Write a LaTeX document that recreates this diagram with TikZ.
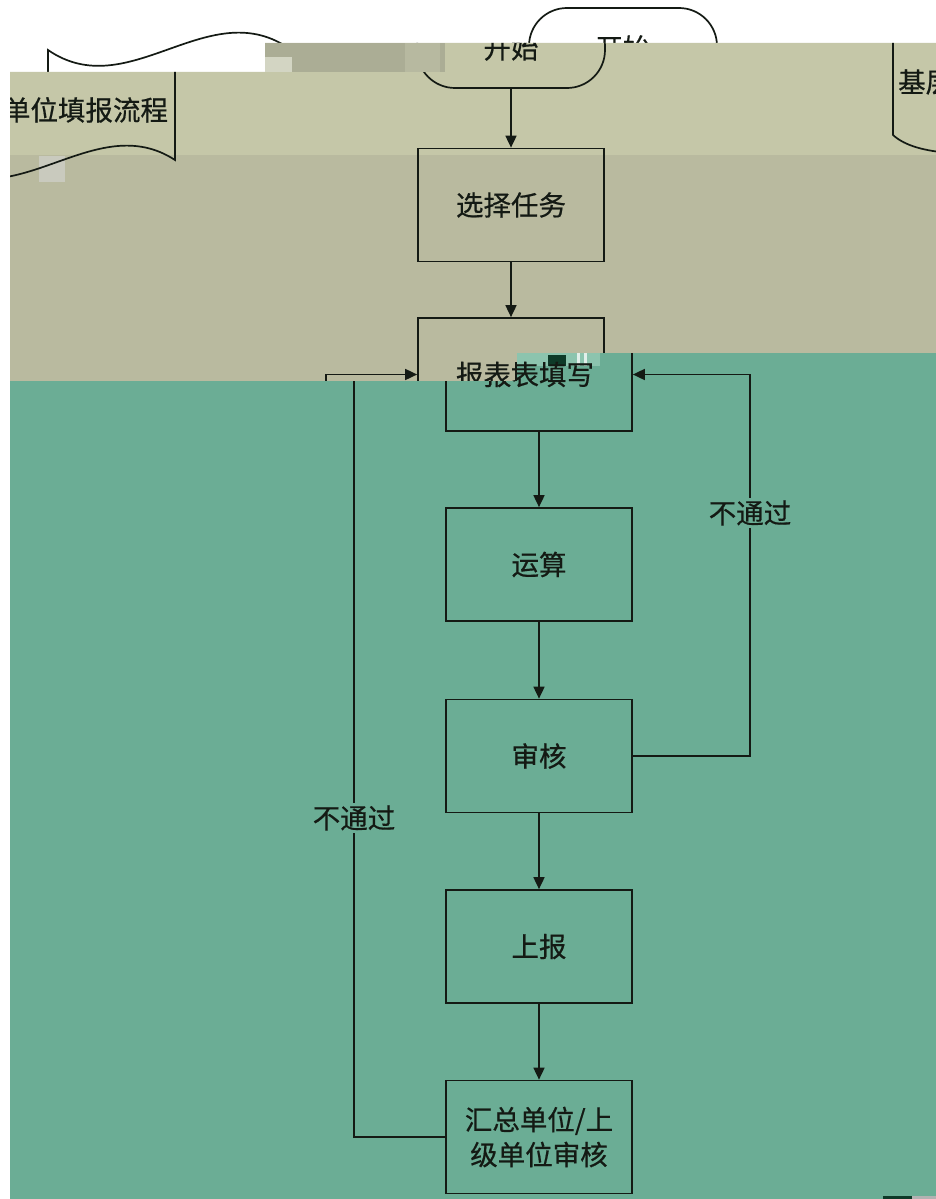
\documentclass[tikz,border=0pt]{standalone}
\usepackage{fontspec}
\setmainfont{Noto Sans CJK SC}[FakeBold=0.6]
\usetikzlibrary{arrows.meta}
\definecolor{bandA}{HTML}{C5C7A8}
\definecolor{bandB}{HTML}{B9BA9F}
\definecolor{bandC}{HTML}{6BAD95}
\definecolor{ink}{HTML}{141A14}
\definecolor{glitch}{HTML}{ABAD95}
\definecolor{glitchlight}{HTML}{D3D5C3}
\definecolor{glitchgray}{HTML}{C9CABE}
\definecolor{tealight}{HTML}{8CC4AE}
\definecolor{tealdark}{HTML}{0E3A28}
\tikzset{
  ln/.style={draw=ink, line width=1.7pt},
  boxnode/.style={ln, rectangle, minimum width=186pt, minimum height=113pt, inner sep=0pt,
    font=\fontsize{27.5}{35}\selectfont, text=ink, align=center},
  termnode/.style={ln, rectangle, rounded corners=38pt, minimum width=188pt, minimum height=80pt,
    inner sep=0pt, font=\fontsize{27.5}{30}\selectfont, text=ink},
  flow/.style={ln, -{Triangle[length=12pt,width=11pt]}},
  lbl/.style={fill=bandC, inner sep=2pt, text=ink, font=\fontsize{27.5}{30}\selectfont},
  doctext/.style={text=ink, font=\fontsize{27.5}{30}\selectfont, inner sep=0pt}
}
\newcommand\docshape{%
  \draw[ln] (-64,50) .. controls (16,105) and (95,-5) .. (175,47) -- (175,160)
    .. controls (95,108) and (16,218) .. (-64,163) -- cycle;
}
\begin{document}
\begin{tikzpicture}[x=1pt,y=-1pt]
  \useasboundingbox (0,0) rectangle (936,1199);
  \fill[white] (0,0) rectangle (936,1199);
  % top white region: shifted copy (start terminal and document top)
  \begin{scope}
    \clip (0,0) -- (936,0) -- (936,43) -- (265,43) -- (265,72) -- (0,72) -- cycle;
    \begin{scope}[xshift=112pt]
      \docshape
      \node[termnode] (startw) at (511,48) {开始};
    \end{scope}
  \end{scope}
  % khaki bands
  \begin{scope}
    \clip (10,72) -- (265,72) -- (265,43) -- (936,43) -- (936,353) -- (517,353) -- (517,381) -- (10,381) -- cycle;
    \fill[bandA] (0,0) rectangle (936,155);
    \fill[bandB] (0,155) rectangle (936,400);
    \fill[glitchgray] (39,156) rectangle (65,182);
    \docshape
    \node[doctext] (doc) at (58,110) {基层单位填报流程};
    \draw[ln] (893,30) -- (893,135) .. controls (905,146) and (925,151) .. (950,153);
    \node[doctext, anchor=west] (doc2) at (898,82) {基层单位填报流程};
    \node[termnode] (start) at (511,48) {开始};
    \node[boxnode] (xz) at (511,205) {选择任务};
    \node[boxnode] (tx) at (511,374.5) {报表填写};
    \coordinate (lb) at (326,1137);
    \draw[flow] (start) -- (xz);
    \draw[flow] (xz) -- (tx);
    \draw[flow] (lb) -- (tx.west -| lb) -- (tx.west);
  \end{scope}
  % teal band: shifted copy
  \begin{scope}
    \clip (10,381) -- (517,381) -- (517,353) -- (936,353) -- (936,1199) -- (10,1199) -- cycle;
    \fill[bandC] (0,340) rectangle (936,1199);
    \fill[tealight] (517,353) rectangle (600,366);
    \fill[tealdark] (548,355) rectangle (566,366);
    \fill[white!80!bandC] (577,353) rectangle (580,366);
    \fill[white!80!bandC] (584,353) rectangle (587,366);
    \begin{scope}[xshift=28pt]
      \node[boxnode] (tx3) at (511,374.5) {报表填写};
      \node[boxnode] (ys) at (511,564.5) {运算};
      \node[boxnode] (sh) at (511,756) {审核};
      \node[boxnode] (sb) at (511,946.5) {上报};
      \node[boxnode] (hz) at (511,1137) {汇总单位/上\\级单位审核};
      \coordinate (rx) at (722,0);
      \coordinate (lx) at (326,0);
      \draw[flow] (tx3) -- (ys);
      \draw[flow] (ys) -- (sh);
      \draw[flow] (sh) -- (sb);
      \draw[flow] (sb) -- (hz);
      \draw[flow] (sh.east) -- (sh.east -| rx) -- (tx3.east -| rx) -- (tx3.east);
      \draw[flow] (hz.west) -- (hz.west -| lx) -- (tx3.west -| lx) -- (tx3.west);
      \node[lbl] (nr) at (722,513) {不通过};
      \node[lbl] (nl) at (326,818) {不通过};
    \end{scope}
    \fill[tealdark] (883,1196) rectangle (912,1199);
    \fill[gray!60] (912,1196) rectangle (936,1199);
  \end{scope}
  % glitch strip
  \fill[glitch] (265,43) rectangle (445,72);
  \fill[glitchlight] (265,57) rectangle (292,72);
  \fill[bandA!80!gray] (405,43) rectangle (440,72);
\end{tikzpicture}
\end{document}
